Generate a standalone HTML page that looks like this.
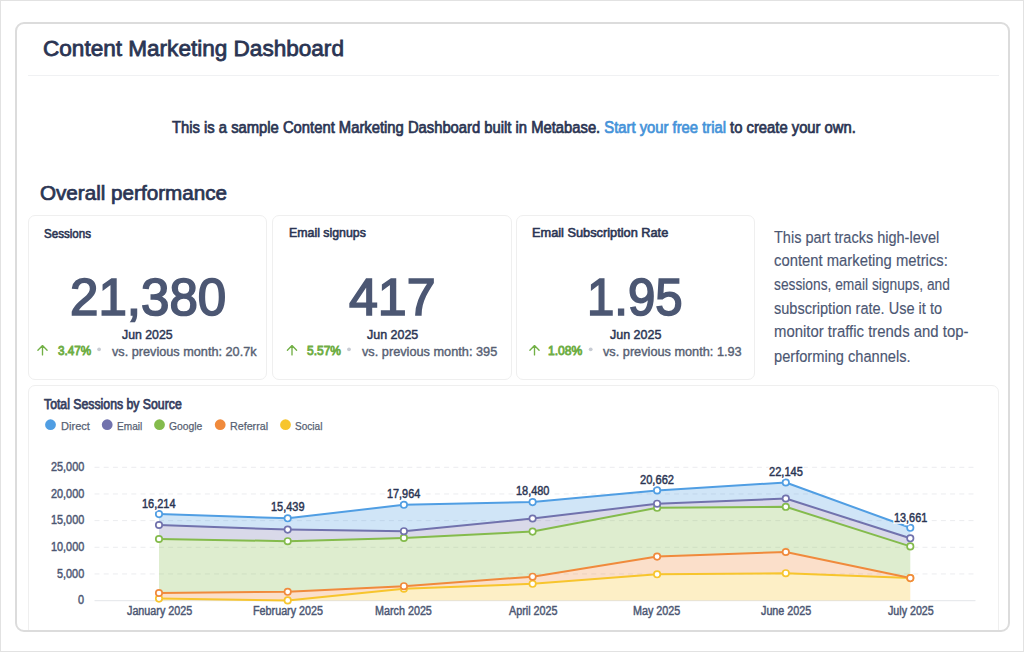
<!DOCTYPE html>
<html><head><meta charset="utf-8"><title>Content Marketing Dashboard</title>
<style>
html,body{margin:0;padding:0;background:#fff;}
body{width:1024px;height:652px;position:relative;overflow:hidden;font-family:"Liberation Sans",sans-serif;}
.frame{position:absolute;left:0;top:0;width:1024px;height:652px;box-sizing:border-box;border:1px solid #e2e2e2;}
.card{position:absolute;left:15px;top:22px;width:995px;height:610px;box-sizing:border-box;border:2px solid #dcdcdc;border-radius:9px;}
.sep{position:absolute;left:28px;top:75px;width:971px;height:1px;background:#f0f1f3;}
.sc{position:absolute;box-sizing:border-box;border:1px solid #efefef;border-radius:7px;background:#fff;}
.t{position:absolute;white-space:nowrap;transform-origin:0 0;}
</style></head><body>
<div class="frame"></div>
<div class="sep"></div>
<div class="sc" style="left:28px;top:215px;width:239px;height:165px"></div>
<div class="sc" style="left:272px;top:215px;width:240px;height:165px"></div>
<div class="sc" style="left:516px;top:215px;width:239px;height:165px"></div>
<div class="sc" style="left:28px;top:385px;width:971px;height:260px"></div>
<svg width="1024" height="652" style="position:absolute;left:0;top:0">
<line x1="94.5" y1="467.30" x2="975.5" y2="467.30" stroke="#ebecef" stroke-width="1" stroke-dasharray="5 4.2"/>
<line x1="94.5" y1="493.96" x2="975.5" y2="493.96" stroke="#ebecef" stroke-width="1" stroke-dasharray="5 4.2"/>
<line x1="94.5" y1="520.62" x2="975.5" y2="520.62" stroke="#ebecef" stroke-width="1" stroke-dasharray="5 4.2"/>
<line x1="94.5" y1="547.28" x2="975.5" y2="547.28" stroke="#ebecef" stroke-width="1" stroke-dasharray="5 4.2"/>
<line x1="94.5" y1="573.94" x2="975.5" y2="573.94" stroke="#ebecef" stroke-width="1" stroke-dasharray="5 4.2"/>
<line x1="94.5" y1="600.7" x2="975.5" y2="600.7" stroke="#e3e5e9" stroke-width="1"/>
<path d="M159.0,514.1 L287.7,518.3 L403.9,504.8 L532.6,502.1 L657.1,490.4 L785.8,482.5 L910.3,527.8 L910.3,538.3 L785.8,498.5 L657.1,503.7 L532.6,518.5 L403.9,531.2 L287.7,529.6 L159.0,525.0Z" fill="#509ee3" fill-opacity="0.27"/>
<path d="M159.0,525.0 L287.7,529.6 L403.9,531.2 L532.6,518.5 L657.1,503.7 L785.8,498.5 L910.3,538.3 L910.3,546.4 L785.8,506.8 L657.1,507.8 L532.6,531.6 L403.9,537.9 L287.7,541.2 L159.0,539.0Z" fill="#7172ad" fill-opacity="0.27"/>
<path d="M159.0,539.0 L287.7,541.2 L403.9,537.9 L532.6,531.6 L657.1,507.8 L785.8,506.8 L910.3,546.4 L910.3,578.1 L785.8,552.0 L657.1,556.6 L532.6,576.7 L403.9,586.2 L287.7,591.8 L159.0,593.0Z" fill="#84bb4c" fill-opacity="0.27"/>
<path d="M159.0,593.0 L287.7,591.8 L403.9,586.2 L532.6,576.7 L657.1,556.6 L785.8,552.0 L910.3,578.1 L910.3,578.1 L785.8,573.2 L657.1,574.3 L532.6,583.8 L403.9,588.7 L287.7,600.4 L159.0,598.6Z" fill="#f08a3c" fill-opacity="0.27"/>
<path d="M159.0,598.6 L287.7,600.4 L403.9,588.7 L532.6,583.8 L657.1,574.3 L785.8,573.2 L910.3,578.1 L910.3,600.6 L785.8,600.6 L657.1,600.6 L532.6,600.6 L403.9,600.6 L287.7,600.6 L159.0,600.6Z" fill="#f7c52d" fill-opacity="0.27"/>
<polyline points="159.0,598.6 287.7,600.4 403.9,588.7 532.6,583.8 657.1,574.3 785.8,573.2 910.3,578.1" fill="none" stroke="#f7c52d" stroke-width="2" stroke-linejoin="round"/>
<polyline points="159.0,593.0 287.7,591.8 403.9,586.2 532.6,576.7 657.1,556.6 785.8,552.0 910.3,578.1" fill="none" stroke="#f08a3c" stroke-width="2" stroke-linejoin="round"/>
<polyline points="159.0,539.0 287.7,541.2 403.9,537.9 532.6,531.6 657.1,507.8 785.8,506.8 910.3,546.4" fill="none" stroke="#84bb4c" stroke-width="2" stroke-linejoin="round"/>
<polyline points="159.0,525.0 287.7,529.6 403.9,531.2 532.6,518.5 657.1,503.7 785.8,498.5 910.3,538.3" fill="none" stroke="#7172ad" stroke-width="2" stroke-linejoin="round"/>
<polyline points="159.0,514.1 287.7,518.3 403.9,504.8 532.6,502.1 657.1,490.4 785.8,482.5 910.3,527.8" fill="none" stroke="#509ee3" stroke-width="2" stroke-linejoin="round"/>
<circle cx="159.0" cy="598.6" r="3.2" fill="#fff" stroke="#f7c52d" stroke-width="1.7"/>
<circle cx="287.7" cy="600.4" r="3.2" fill="#fff" stroke="#f7c52d" stroke-width="1.7"/>
<circle cx="403.9" cy="588.7" r="3.2" fill="#fff" stroke="#f7c52d" stroke-width="1.7"/>
<circle cx="532.6" cy="583.8" r="3.2" fill="#fff" stroke="#f7c52d" stroke-width="1.7"/>
<circle cx="657.1" cy="574.3" r="3.2" fill="#fff" stroke="#f7c52d" stroke-width="1.7"/>
<circle cx="785.8" cy="573.2" r="3.2" fill="#fff" stroke="#f7c52d" stroke-width="1.7"/>
<circle cx="910.3" cy="578.1" r="3.2" fill="#fff" stroke="#f7c52d" stroke-width="1.7"/>
<circle cx="159.0" cy="593.0" r="3.2" fill="#fff" stroke="#f08a3c" stroke-width="1.7"/>
<circle cx="287.7" cy="591.8" r="3.2" fill="#fff" stroke="#f08a3c" stroke-width="1.7"/>
<circle cx="403.9" cy="586.2" r="3.2" fill="#fff" stroke="#f08a3c" stroke-width="1.7"/>
<circle cx="532.6" cy="576.7" r="3.2" fill="#fff" stroke="#f08a3c" stroke-width="1.7"/>
<circle cx="657.1" cy="556.6" r="3.2" fill="#fff" stroke="#f08a3c" stroke-width="1.7"/>
<circle cx="785.8" cy="552.0" r="3.2" fill="#fff" stroke="#f08a3c" stroke-width="1.7"/>
<circle cx="910.3" cy="578.1" r="3.2" fill="#fff" stroke="#f08a3c" stroke-width="1.7"/>
<circle cx="159.0" cy="539.0" r="3.2" fill="#fff" stroke="#84bb4c" stroke-width="1.7"/>
<circle cx="287.7" cy="541.2" r="3.2" fill="#fff" stroke="#84bb4c" stroke-width="1.7"/>
<circle cx="403.9" cy="537.9" r="3.2" fill="#fff" stroke="#84bb4c" stroke-width="1.7"/>
<circle cx="532.6" cy="531.6" r="3.2" fill="#fff" stroke="#84bb4c" stroke-width="1.7"/>
<circle cx="657.1" cy="507.8" r="3.2" fill="#fff" stroke="#84bb4c" stroke-width="1.7"/>
<circle cx="785.8" cy="506.8" r="3.2" fill="#fff" stroke="#84bb4c" stroke-width="1.7"/>
<circle cx="910.3" cy="546.4" r="3.2" fill="#fff" stroke="#84bb4c" stroke-width="1.7"/>
<circle cx="159.0" cy="525.0" r="3.2" fill="#fff" stroke="#7172ad" stroke-width="1.7"/>
<circle cx="287.7" cy="529.6" r="3.2" fill="#fff" stroke="#7172ad" stroke-width="1.7"/>
<circle cx="403.9" cy="531.2" r="3.2" fill="#fff" stroke="#7172ad" stroke-width="1.7"/>
<circle cx="532.6" cy="518.5" r="3.2" fill="#fff" stroke="#7172ad" stroke-width="1.7"/>
<circle cx="657.1" cy="503.7" r="3.2" fill="#fff" stroke="#7172ad" stroke-width="1.7"/>
<circle cx="785.8" cy="498.5" r="3.2" fill="#fff" stroke="#7172ad" stroke-width="1.7"/>
<circle cx="910.3" cy="538.3" r="3.2" fill="#fff" stroke="#7172ad" stroke-width="1.7"/>
<circle cx="159.0" cy="514.1" r="3.2" fill="#fff" stroke="#509ee3" stroke-width="1.7"/>
<circle cx="287.7" cy="518.3" r="3.2" fill="#fff" stroke="#509ee3" stroke-width="1.7"/>
<circle cx="403.9" cy="504.8" r="3.2" fill="#fff" stroke="#509ee3" stroke-width="1.7"/>
<circle cx="532.6" cy="502.1" r="3.2" fill="#fff" stroke="#509ee3" stroke-width="1.7"/>
<circle cx="657.1" cy="490.4" r="3.2" fill="#fff" stroke="#509ee3" stroke-width="1.7"/>
<circle cx="785.8" cy="482.5" r="3.2" fill="#fff" stroke="#509ee3" stroke-width="1.7"/>
<circle cx="910.3" cy="527.8" r="3.2" fill="#fff" stroke="#509ee3" stroke-width="1.7"/>
<circle cx="50.5" cy="424.7" r="5.4" fill="#509ee3"/>
<circle cx="107.2" cy="424.7" r="5.4" fill="#7172ad"/>
<circle cx="159.5" cy="424.7" r="5.4" fill="#84bb4c"/>
<circle cx="220.2" cy="424.7" r="5.4" fill="#f08a3c"/>
<circle cx="285.5" cy="424.7" r="5.4" fill="#f7c52d"/>
<path d="M42.5 354.9 V345.8 M37.9 350.2 L42.5 345.6 L47.1 350.2" fill="none" stroke="#72b046" stroke-width="1.35" stroke-linecap="round" stroke-linejoin="round"/>
<circle cx="99.1" cy="349.3" r="1.9" fill="#c8ccd4"/>
<path d="M292.0 354.9 V345.8 M287.4 350.2 L292.0 345.6 L296.6 350.2" fill="none" stroke="#72b046" stroke-width="1.35" stroke-linecap="round" stroke-linejoin="round"/>
<circle cx="349.0" cy="349.3" r="1.9" fill="#c8ccd4"/>
<path d="M534.5 354.9 V345.8 M529.9 350.2 L534.5 345.6 L539.1 350.2" fill="none" stroke="#72b046" stroke-width="1.35" stroke-linecap="round" stroke-linejoin="round"/>
<circle cx="590.7" cy="349.3" r="1.9" fill="#c8ccd4"/>
</svg>
<div class="t" style="left:43.30px;top:37.70px;font-weight:400;font-size:22.4px;line-height:22.4px;color:#2b3553;transform:scaleX(1.0074);-webkit-text-stroke-width:0.8px">Content Marketing Dashboard</div>
<div class="t" style="left:172.25px;top:119.90px;font-weight:400;font-size:15.6px;line-height:15.6px;color:#2b3553;transform:scaleX(0.9483);-webkit-text-stroke-width:0.7px"><span style="color:#2b3553">This is a sample Content Marketing Dashboard built in Metabase. </span><span style="color:#4593d9">Start your free trial</span><span style="color:#2b3553"> to create your own.</span></div>
<div class="t" style="left:39.80px;top:183.60px;font-weight:400;font-size:19.6px;line-height:19.6px;color:#2b3553;transform:scaleX(1.0534);-webkit-text-stroke-width:0.7px">Overall performance</div>
<div class="t" style="left:43.90px;top:227.50px;font-weight:400;font-size:12.8px;line-height:12.8px;color:#2b3553;transform:scaleX(0.9057);-webkit-text-stroke-width:0.6px">Sessions</div>
<div class="t" style="left:288.50px;top:227.40px;font-weight:400;font-size:12.8px;line-height:12.8px;color:#2b3553;transform:scaleX(0.9650);-webkit-text-stroke-width:0.6px">Email signups</div>
<div class="t" style="left:531.70px;top:227.40px;font-weight:400;font-size:12.8px;line-height:12.8px;color:#2b3553;transform:scaleX(0.9978);-webkit-text-stroke-width:0.6px">Email Subscription Rate</div>
<div class="t" style="left:70.00px;top:272.00px;font-weight:400;font-size:51px;line-height:51px;color:#4c5773;transform:scaleX(1.0013);-webkit-text-stroke-width:1.7px">21,380</div>
<div class="t" style="left:348.50px;top:272.00px;font-weight:400;font-size:51px;line-height:51px;color:#4c5773;transform:scaleX(1.0179);-webkit-text-stroke-width:1.7px">417</div>
<div class="t" style="left:587.31px;top:272.00px;font-weight:400;font-size:51px;line-height:51px;color:#4c5773;transform:scaleX(0.9642);-webkit-text-stroke-width:1.7px">1.95</div>
<div class="t" style="left:122.19px;top:328.50px;font-weight:400;font-size:12.4px;line-height:12.4px;color:#2b3553;transform:scaleX(0.9923);-webkit-text-stroke-width:0.45px">Jun 2025</div>
<div class="t" style="left:366.71px;top:328.50px;font-weight:400;font-size:12.4px;line-height:12.4px;color:#2b3553;transform:scaleX(1.0058);-webkit-text-stroke-width:0.45px">Jun 2025</div>
<div class="t" style="left:610.21px;top:328.50px;font-weight:400;font-size:12.4px;line-height:12.4px;color:#2b3553;transform:scaleX(1.0077);-webkit-text-stroke-width:0.45px">Jun 2025</div>
<div class="t" style="left:57.90px;top:344.20px;font-weight:400;font-size:13px;line-height:13px;color:#6fae45;transform:scaleX(0.9000);-webkit-text-stroke-width:0.9px">3.47%</div>
<div class="t" style="left:306.62px;top:344.20px;font-weight:400;font-size:13px;line-height:13px;color:#6fae45;transform:scaleX(0.9205);-webkit-text-stroke-width:0.9px">5.57%</div>
<div class="t" style="left:548.40px;top:344.20px;font-weight:400;font-size:13px;line-height:13px;color:#6fae45;transform:scaleX(0.9316);-webkit-text-stroke-width:0.9px">1.08%</div>
<div class="t" style="left:111.88px;top:344.60px;font-weight:400;font-size:13px;line-height:13px;color:#575f73;transform:scaleX(0.9760);-webkit-text-stroke-width:0.4px">vs. previous month: 20.7k</div>
<div class="t" style="left:361.58px;top:344.60px;font-weight:400;font-size:13px;line-height:13px;color:#575f73;transform:scaleX(0.9799);-webkit-text-stroke-width:0.4px">vs. previous month: 395</div>
<div class="t" style="left:602.98px;top:344.60px;font-weight:400;font-size:13px;line-height:13px;color:#575f73;transform:scaleX(0.9790);-webkit-text-stroke-width:0.4px">vs. previous month: 1.93</div>
<div class="t" style="left:773.60px;top:229.00px;font-weight:400;font-size:16.3px;line-height:16.3px;color:#4c5773;transform:scaleX(0.8909);-webkit-text-stroke-width:0.15px">This part tracks high-level</div>
<div class="t" style="left:773.60px;top:251.70px;font-weight:400;font-size:16.3px;line-height:16.3px;color:#4c5773;transform:scaleX(0.9105);-webkit-text-stroke-width:0.15px">content marketing metrics:</div>
<div class="t" style="left:773.60px;top:275.80px;font-weight:400;font-size:16.3px;line-height:16.3px;color:#4c5773;transform:scaleX(0.8452);-webkit-text-stroke-width:0.15px">sessions, email signups, and</div>
<div class="t" style="left:773.60px;top:299.70px;font-weight:400;font-size:16.3px;line-height:16.3px;color:#4c5773;transform:scaleX(0.8926);-webkit-text-stroke-width:0.15px">subscription rate. Use it to</div>
<div class="t" style="left:773.60px;top:323.20px;font-weight:400;font-size:16.3px;line-height:16.3px;color:#4c5773;transform:scaleX(0.9155);-webkit-text-stroke-width:0.15px">monitor traffic trends and top-</div>
<div class="t" style="left:773.60px;top:347.80px;font-weight:400;font-size:16.3px;line-height:16.3px;color:#4c5773;transform:scaleX(0.8987);-webkit-text-stroke-width:0.15px">performing channels.</div>
<div class="t" style="left:44.48px;top:396.70px;font-weight:400;font-size:14px;line-height:14px;color:#364060;transform:scaleX(0.8761);-webkit-text-stroke-width:0.75px">Total Sessions by Source</div>
<div class="t" style="left:60.50px;top:420.40px;font-weight:400;font-size:11.6px;line-height:11.6px;color:#575f73;transform:scaleX(0.9548);-webkit-text-stroke-width:0.25px">Direct</div>
<div class="t" style="left:116.90px;top:420.40px;font-weight:400;font-size:11.6px;line-height:11.6px;color:#575f73;transform:scaleX(0.8700);-webkit-text-stroke-width:0.25px">Email</div>
<div class="t" style="left:169.30px;top:420.40px;font-weight:400;font-size:11.6px;line-height:11.6px;color:#575f73;transform:scaleX(0.8921);-webkit-text-stroke-width:0.25px">Google</div>
<div class="t" style="left:229.80px;top:420.40px;font-weight:400;font-size:11.6px;line-height:11.6px;color:#575f73;transform:scaleX(0.9238);-webkit-text-stroke-width:0.25px">Referral</div>
<div class="t" style="left:295.20px;top:420.40px;font-weight:400;font-size:11.6px;line-height:11.6px;color:#575f73;transform:scaleX(0.8688);-webkit-text-stroke-width:0.25px">Social</div>
<div class="t" style="left:51.10px;top:460.90px;font-weight:400;font-size:12.5px;line-height:12.5px;color:#4c5773;transform:scaleX(0.8692);-webkit-text-stroke-width:0.45px">25,000</div>
<div class="t" style="left:51.10px;top:487.60px;font-weight:400;font-size:12.5px;line-height:12.5px;color:#4c5773;transform:scaleX(0.8692);-webkit-text-stroke-width:0.45px">20,000</div>
<div class="t" style="left:51.10px;top:514.30px;font-weight:400;font-size:12.5px;line-height:12.5px;color:#4c5773;transform:scaleX(0.8692);-webkit-text-stroke-width:0.45px">15,000</div>
<div class="t" style="left:51.10px;top:541.00px;font-weight:400;font-size:12.5px;line-height:12.5px;color:#4c5773;transform:scaleX(0.8692);-webkit-text-stroke-width:0.45px">10,000</div>
<div class="t" style="left:57.18px;top:567.70px;font-weight:400;font-size:12.5px;line-height:12.5px;color:#4c5773;transform:scaleX(0.8692);-webkit-text-stroke-width:0.45px">5,000</div>
<div class="t" style="left:78.05px;top:594.40px;font-weight:400;font-size:12.5px;line-height:12.5px;color:#4c5773;transform:scaleX(0.8692);-webkit-text-stroke-width:0.45px">0</div>
<div class="t" style="left:126.50px;top:604.50px;font-weight:400;font-size:12.0px;line-height:12.0px;color:#4c5773;transform:scaleX(0.8973);-webkit-text-stroke-width:0.45px">January 2025</div>
<div class="t" style="left:252.71px;top:604.50px;font-weight:400;font-size:12.0px;line-height:12.0px;color:#4c5773;transform:scaleX(0.8973);-webkit-text-stroke-width:0.45px">February 2025</div>
<div class="t" style="left:375.19px;top:604.50px;font-weight:400;font-size:12.0px;line-height:12.0px;color:#4c5773;transform:scaleX(0.8973);-webkit-text-stroke-width:0.45px">March 2025</div>
<div class="t" style="left:508.82px;top:604.50px;font-weight:400;font-size:12.0px;line-height:12.0px;color:#4c5773;transform:scaleX(0.8973);-webkit-text-stroke-width:0.45px">April 2025</div>
<div class="t" style="left:633.32px;top:604.50px;font-weight:400;font-size:12.0px;line-height:12.0px;color:#4c5773;transform:scaleX(0.8973);-webkit-text-stroke-width:0.45px">May 2025</div>
<div class="t" style="left:760.68px;top:604.50px;font-weight:400;font-size:12.0px;line-height:12.0px;color:#4c5773;transform:scaleX(0.8973);-webkit-text-stroke-width:0.45px">June 2025</div>
<div class="t" style="left:887.89px;top:604.50px;font-weight:400;font-size:12.0px;line-height:12.0px;color:#4c5773;transform:scaleX(0.8906);-webkit-text-stroke-width:0.45px">July 2025</div>
<div class="t" style="left:142.30px;top:497.80px;font-size:12.0px;line-height:12.0px;color:#fff;transform:scaleX(0.9135);-webkit-text-stroke:3.5px #fff">16,214</div>
<div class="t" style="left:142.30px;top:497.80px;font-weight:400;font-size:12.0px;line-height:12.0px;color:#2b3553;transform:scaleX(0.9135);-webkit-text-stroke-width:0.45px">16,214</div>
<div class="t" style="left:271.40px;top:501.20px;font-size:12.0px;line-height:12.0px;color:#fff;transform:scaleX(0.9135);-webkit-text-stroke:3.5px #fff">15,439</div>
<div class="t" style="left:271.40px;top:501.20px;font-weight:400;font-size:12.0px;line-height:12.0px;color:#2b3553;transform:scaleX(0.9135);-webkit-text-stroke-width:0.45px">15,439</div>
<div class="t" style="left:387.30px;top:487.90px;font-size:12.0px;line-height:12.0px;color:#fff;transform:scaleX(0.9054);-webkit-text-stroke:3.5px #fff">17,964</div>
<div class="t" style="left:387.30px;top:487.90px;font-weight:400;font-size:12.0px;line-height:12.0px;color:#2b3553;transform:scaleX(0.9054);-webkit-text-stroke-width:0.45px">17,964</div>
<div class="t" style="left:516.00px;top:485.30px;font-size:12.0px;line-height:12.0px;color:#fff;transform:scaleX(0.9108);-webkit-text-stroke:3.5px #fff">18,480</div>
<div class="t" style="left:516.00px;top:485.30px;font-weight:400;font-size:12.0px;line-height:12.0px;color:#2b3553;transform:scaleX(0.9108);-webkit-text-stroke-width:0.45px">18,480</div>
<div class="t" style="left:640.30px;top:473.70px;font-size:12.0px;line-height:12.0px;color:#fff;transform:scaleX(0.9270);-webkit-text-stroke:3.5px #fff">20,662</div>
<div class="t" style="left:640.30px;top:473.70px;font-weight:400;font-size:12.0px;line-height:12.0px;color:#2b3553;transform:scaleX(0.9270);-webkit-text-stroke-width:0.45px">20,662</div>
<div class="t" style="left:768.80px;top:465.90px;font-size:12.0px;line-height:12.0px;color:#fff;transform:scaleX(0.9243);-webkit-text-stroke:3.5px #fff">22,145</div>
<div class="t" style="left:768.80px;top:465.90px;font-weight:400;font-size:12.0px;line-height:12.0px;color:#2b3553;transform:scaleX(0.9243);-webkit-text-stroke-width:0.45px">22,145</div>
<div class="t" style="left:894.40px;top:511.50px;font-size:12.0px;line-height:12.0px;color:#fff;transform:scaleX(0.9054);-webkit-text-stroke:3.5px #fff">13,661</div>
<div class="t" style="left:894.40px;top:511.50px;font-weight:400;font-size:12.0px;line-height:12.0px;color:#2b3553;transform:scaleX(0.9054);-webkit-text-stroke-width:0.45px">13,661</div>
<div class="card"></div>
<div style="position:absolute;left:1px;top:632px;width:1022px;height:18px;background:#fff"></div>
</body></html>
